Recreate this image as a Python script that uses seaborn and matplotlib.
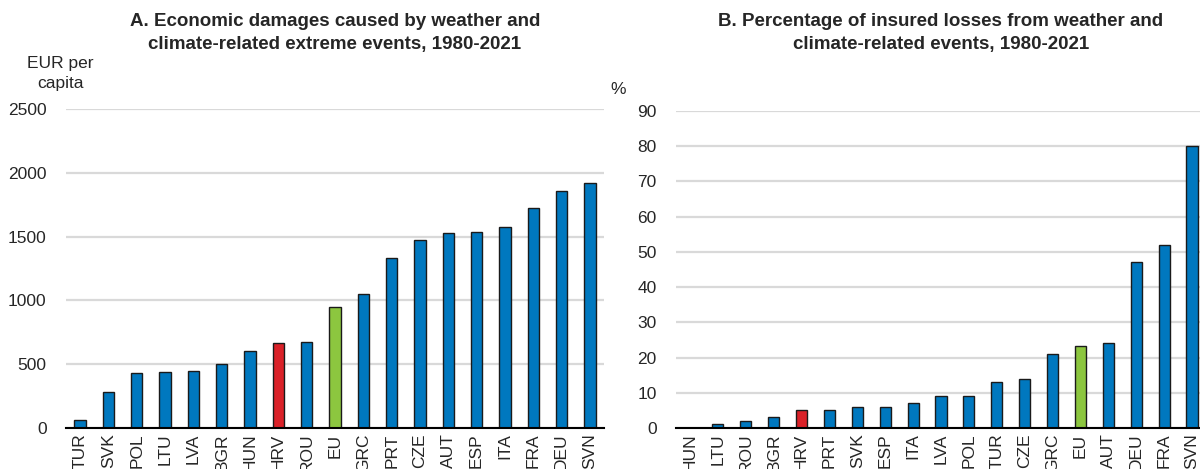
import numpy as np
import pandas as pd
import matplotlib.pyplot as plt
import seaborn as sns

# Panel A: economic damages, EUR per capita
damage_countries = ['TUR', 'SVK', 'POL', 'LTU', 'LVA', 'BGR', 'HUN', 'HRV', 'ROU', 'EU',
                    'GRC', 'PRT', 'CZE', 'AUT', 'ESP', 'ITA', 'FRA', 'DEU', 'SVN']
damage_values = [66, 285, 430, 435, 448, 501, 603, 664, 677, 950,
                 1053, 1334, 1476, 1526, 1534, 1579, 1721, 1860, 1918]

# Panel B: share of insured losses, %
insured_countries = ['HUN', 'LTU', 'ROU', 'BGR', 'HRV', 'PRT', 'SVK', 'ESP', 'ITA', 'LVA',
                     'POL', 'TUR', 'CZE', 'GRC', 'EU', 'AUT', 'DEU', 'FRA', 'SVN']
insured_values = [0, 1, 2, 3, 5, 5, 6, 6, 7, 9,
                  9, 13, 14, 21, 23.3, 24, 47, 52, 80]

BLUE = '#0078bf'
RED = '#da2128'
GREEN = '#8cc63f'

sns.set_style('white')
plt.rcParams['font.family'] = ['Liberation Sans', 'DejaVu Sans']


def colours(names):
    return [RED if n == 'HRV' else GREEN if n == 'EU' else BLUE for n in names]


def draw(fig, ax, names, values, ymax, step, title, unit, unit_x, unit_y):
    df = pd.DataFrame({'country': names, 'value': values})
    sns.barplot(data=df, x='country', y='value', hue='country', palette=colours(names),
                saturation=1, legend=False, width=0.4, edgecolor='#1a1a1a', linewidth=1.0,
                ax=ax, zorder=3)
    ax.set_ylim(0, ymax)
    ax.set_xlim(-0.5, len(names) - 0.5)
    ax.set_yticks(np.arange(0, ymax + 1, step))
    ax.yaxis.grid(True, color='#d9d9d9', linewidth=1.6, zorder=0)
    ax.set_axisbelow(True)
    for s in ['left', 'right', 'top']:
        ax.spines[s].set_visible(False)
    ax.spines['bottom'].set_color('black')
    ax.spines['bottom'].set_linewidth(1.5)
    ax.spines['bottom'].set_zorder(5)
    ax.tick_params(axis='y', length=0, pad=14, labelsize=12.5)
    ax.tick_params(axis='x', which='major', length=0, pad=4, labelsize=12.5, rotation=90)
    ax.set_xticks(np.arange(-0.5, len(names), 1.0), minor=True)
    ax.tick_params(axis='x', which='minor', direction='in', length=5, width=1.5, color='black')
    ax.set_xlabel('')
    ax.set_ylabel('')
    # title sits at the top of the figure, centred over the panel
    bbox = ax.get_position()
    fig.text((bbox.x0 + bbox.x1) / 2, 1 - 13 / 469, title, ha='center', va='top',
             fontsize=13.5, fontweight='bold', linespacing=1.5)
    ax.text(unit_x, unit_y, unit, transform=ax.transAxes, ha='center', va='bottom',
            fontsize=12.5, linespacing=1.45)


fig = plt.figure(figsize=(12, 4.69), dpi=100)
ax1 = fig.add_axes([66 / 1200, 41 / 469, 538 / 1200, 319 / 469])
ax2 = fig.add_axes([676 / 1200, 41 / 469, 530 / 1200, 317 / 469])

draw(fig, ax1, damage_countries, damage_values, 2500, 500,
     'A. Economic damages caused by weather and\nclimate-related extreme events, 1980-2021',
     'EUR per\ncapita', -0.01, 1.055)
draw(fig, ax2, insured_countries, insured_values, 90, 10,
     'B. Percentage of insured losses from weather and\nclimate-related events, 1980-2021',
     '%', -0.11, 1.045)

fig.savefig('out.png', dpi=100)
